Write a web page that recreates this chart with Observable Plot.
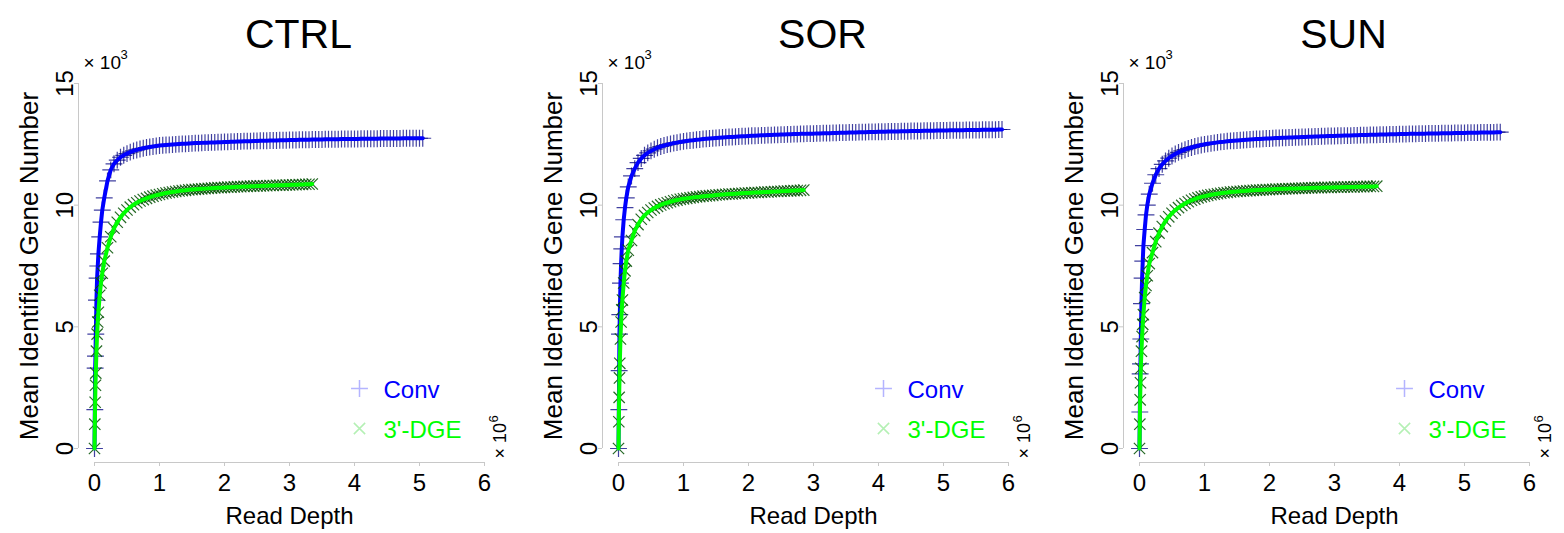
<!DOCTYPE html>
<html><head><meta charset="utf-8">
<script src="https://cdn.jsdelivr.net/npm/d3@7"></script>
<script src="https://cdn.jsdelivr.net/npm/@observablehq/plot@0.6"></script>
<style>
body{margin:0;background:#fff;}
#wrap{position:relative;width:1564px;height:533px;overflow:hidden;background:#fff;}
#wrap svg{position:absolute;top:0;}
</style></head><body><div id="wrap"></div>
<script>
// Read depth sample points (millions of reads)
const depth = [0,0.005,0.01,0.015,0.02,0.03,0.04,0.05,0.06,0.08,0.1,0.12,0.15,
0.2,0.25,0.3,0.35,0.4,0.45,0.5,0.55,0.6,0.65,0.7,0.75,0.8,0.85,0.9,0.95,
1,1.05,1.1,1.15,1.2,1.25,1.3,1.35,1.4,1.45,1.5,1.55,1.6,1.65,1.7,1.75,1.8,1.85,1.9,1.95,
2,2.05,2.1,2.15,2.2,2.25,2.3,2.35,2.4,2.45,2.5,2.55,2.6,2.65,2.7,2.75,2.8,2.85,2.9,2.95,
3,3.05,3.1,3.15,3.2,3.25,3.3,3.35,3.4,3.45,3.5,3.55,3.6,3.65,3.7,3.75,3.8,3.85,3.9,3.95,
4,4.05,4.1,4.15,4.2,4.25,4.3,4.35,4.4,4.45,4.5,4.55,4.6,4.65,4.7,4.75,4.8,4.85,4.9,4.95,
5,5.05,5.1,5.15,5.2,5.25,5.3,5.35,5.4,5.45,5.5,5.55,5.6,5.65,5.7,5.75,5.8,5.85,5.9];

// Mean identified gene number (thousands)
const ctrlConv = [0,1.6,3.3,3.8,4.7,6.1,7.0,7.5,8.0,8.7,9.3,9.8,10.3,
11.0,11.45,11.7,11.85,11.97,12.05,12.12,12.18,12.23,12.27,12.31,12.34,12.37,12.39,12.41,12.43,
12.45,12.46,12.47,12.48,12.49,12.50,12.51,12.52,12.52,12.53,12.54,12.55,12.55,12.56,12.57,12.57,12.58,12.58,12.59,12.59,12.60,
12.60,12.61,12.61,12.62,12.62,12.63,12.63,12.63,12.64,12.64,12.65,12.65,12.65,12.66,12.66,12.66,12.67,12.67,12.67,12.68,
12.68,12.68,12.69,12.69,12.69,12.69,12.70,12.70,12.70,12.70,12.71,12.71,12.71,12.71,12.71,12.72,12.72,12.72,12.72,12.72,
12.72,12.73,12.73,12.73,12.73,12.73,12.73,12.74,12.74,12.74,12.74,12.74,12.74,12.74,12.75,12.75,12.75,12.75,12.75,12.75,12.75];
const ctrlDge = [0,1.0,1.9,2.6,3.1,4.0,4.7,5.2,5.6,6.3,6.8,7.2,7.7,
8.25,8.7,9.05,9.3,9.5,9.67,9.8,9.92,10.02,10.1,10.17,10.23,10.28,10.33,10.37,10.41,
10.44,10.47,10.5,10.52,10.54,10.56,10.58,10.6,10.61,10.63,10.64,10.65,10.66,10.67,10.68,10.69,10.7,10.71,10.72,10.72,10.73,
10.74,10.74,10.75,10.76,10.76,10.77,10.77,10.78,10.78,10.79,10.79,10.8,10.8,10.81,10.81,10.82,10.82,10.82,10.83,10.83,
10.84,10.84,10.85,10.85,10.86,10.86,10.87];
const sorConv = [0,1.6,3.2,4.7,5.5,6.8,7.6,8.2,8.7,9.4,9.9,10.3,10.75,
11.2,11.5,11.75,11.92,12.05,12.15,12.23,12.3,12.36,12.41,12.45,12.49,12.52,12.55,12.57,12.6,
12.62,12.64,12.66,12.67,12.69,12.7,12.72,12.73,12.74,12.75,12.76,12.77,12.78,12.79,12.8,12.8,12.81,12.82,12.83,12.83,12.84,
12.85,12.85,12.86,12.87,12.87,12.88,12.88,12.89,12.89,12.9,12.9,12.91,12.91,12.92,12.92,12.93,12.93,12.94,12.94,12.94,
12.95,12.95,12.96,12.96,12.96,12.97,12.97,12.98,12.98,12.98,12.99,12.99,12.99,13.0,13.0,13.0,13.01,13.01,13.01,13.02,
13.02,13.02,13.03,13.03,13.03,13.03,13.04,13.04,13.04,13.05,13.05,13.05,13.05,13.06,13.06,13.06,13.06,13.07,13.07,13.07,
13.07,13.08,13.08,13.08,13.08,13.08,13.09,13.09,13.09,13.09,13.09,13.1,13.1,13.1,13.1,13.1,13.11,13.11];
const sorDge = [0,1.1,2.1,2.9,3.5,4.5,5.2,5.7,6.1,6.8,7.3,7.7,8.15,
8.55,8.95,9.2,9.42,9.58,9.7,9.8,9.88,9.95,10.01,10.06,10.1,10.14,10.18,10.21,10.24,
10.26,10.28,10.3,10.32,10.34,10.35,10.37,10.38,10.39,10.4,10.42,10.43,10.44,10.45,10.46,10.46,10.47,10.48,10.49,10.5,10.5,
10.51,10.52,10.52,10.53,10.54,10.54,10.55,10.56,10.56,10.57,10.58,10.58,10.59,10.6,10.6,10.61,10.62];
const sunConv = [0,1.5,3.07,3.48,4.5,5.95,7.0,7.7,8.34,9.0,9.6,10.0,10.45,
10.9,11.25,11.5,11.68,11.82,11.93,12.02,12.1,12.17,12.23,12.28,12.33,12.37,12.41,12.44,12.47,
12.5,12.52,12.54,12.56,12.58,12.6,12.61,12.63,12.64,12.65,12.66,12.67,12.68,12.69,12.7,12.71,12.72,12.72,12.73,12.74,12.74,
12.75,12.76,12.76,12.77,12.77,12.78,12.78,12.79,12.79,12.8,12.8,12.81,12.81,12.82,12.82,12.83,12.83,12.84,12.84,12.84,
12.85,12.85,12.86,12.86,12.86,12.87,12.87,12.88,12.88,12.88,12.89,12.89,12.89,12.9,12.9,12.9,12.91,12.91,12.91,12.92,
12.92,12.92,12.93,12.93,12.93,12.94,12.94,12.94,12.95,12.95,12.95,12.95,12.96,12.96,12.96,12.96,12.97,12.97,12.97,12.97,
12.98,12.98,12.98,12.98,12.99,12.99,12.99,12.99,12.99,13.0,13.0];
const sunDge = [0,1.0,2.0,2.7,3.3,4.0,4.6,5.1,5.5,6.2,6.7,7.1,7.6,
8.05,8.5,8.85,9.12,9.35,9.52,9.67,9.8,9.9,9.99,10.07,10.14,10.2,10.25,10.3,10.34,
10.37,10.4,10.43,10.45,10.47,10.49,10.51,10.52,10.54,10.55,10.56,10.57,10.58,10.59,10.6,10.61,10.62,10.62,10.63,10.64,10.64,
10.65,10.66,10.66,10.67,10.67,10.68,10.68,10.69,10.69,10.7,10.7,10.71,10.71,10.72,10.72,10.72,10.73,10.73,10.73,10.74,
10.74,10.74,10.75,10.75,10.75,10.75,10.76,10.76,10.76,10.77,10.77,10.77,10.78];

const panels = ["CTRL", "SOR", "SUN"];
const seriesNames = ["Conv", "3'-DGE"];
const xTicks = [0,1,2,3,4,5,6];
const yTicks = [0,5,10,15];
const panelData = [[ctrlConv, ctrlDge],[sorConv, sorDge],[sunConv, sunDge]];
const panelLeft = [0, 524, 1045];

const FONT = '"Liberation Sans", Arial, Helvetica, sans-serif';
const AXIS = "#c8c8c8";

function rows(ys) { return ys.map((y, i) => ({x: depth[i], y})); }

function panel(title, convY, dgeY) {
  const conv = rows(convY), dge = rows(dgeY);
  return Plot.plot({
    width: 522, height: 533,
    marginLeft: 94, marginRight: 38, marginTop: 83, marginBottom: 85,
    x: {domain: [0, 6]},
    y: {domain: [0, 15]},
    style: {fontFamily: FONT, background: "white", color: "black", overflow: "visible"},
    marks: [
      Plot.ruleX([0], {y1: 0, y2: 15, dx: -16, stroke: AXIS}),
      Plot.ruleY([0], {x1: 0, x2: 6, dy: 14, stroke: AXIS}),
      Plot.axisY({ticks: yTicks, tickFormat: d => String(d), tickSize: 4, tickPadding: 2, dx: -16, tickRotate: -90, fontSize: 24, stroke: AXIS, fill: "black", label: null}),
      Plot.axisX({ticks: xTicks, tickFormat: d => String(d), tickSize: 4, tickPadding: 7, dy: 14, fontSize: 24, stroke: AXIS, fill: "black", label: null}),
      Plot.dot(conv, {x: "x", y: "y", symbol: "plus", r: 5.5, fill: "none", stroke: "#000080", strokeOpacity: 0.75, strokeWidth: 1.2}),
      Plot.line(conv, {x: "x", y: "y", stroke: "#0000ff", strokeWidth: 4}),
      Plot.dot(dge, {x: "x", y: "y", symbol: "times", r: 5.2, fill: "none", stroke: "#005000", strokeOpacity: 0.85, strokeWidth: 1.2}),
      Plot.line(dge, {x: "x", y: "y", stroke: "#00ff00", strokeWidth: 4}),
      // title
      Plot.text([title], {text: d => d, frameAnchor: "top", dx: 9, dy: -36, fontSize: 41, lineAnchor: "bottom", fill: "black"}),
      // axis labels
      Plot.text(["Read Depth"], {text: d => d, frameAnchor: "bottom", dy: 75, fontSize: 24, lineAnchor: "bottom", fill: "black"}),
      Plot.text(["Mean Identified Gene Number"], {text: d => d, frameAnchor: "left", dx: -57, rotate: -90, fontSize: 26, textAnchor: "middle", lineAnchor: "bottom", fill: "black"}),
      // exponent labels
      Plot.text(["× 10"], {text: d => d, frameAnchor: "top-left", dx: -11, dy: -15, fontSize: 19, textAnchor: "start", lineAnchor: "bottom", fill: "black"}),
      Plot.text(["3"], {text: d => d, frameAnchor: "top-left", dx: 26, dy: -25, fontSize: 13, textAnchor: "start", lineAnchor: "bottom", fill: "black"}),
      Plot.text(["× 10"], {text: d => d, frameAnchor: "bottom-right", dx: 21, dy: 10, rotate: -90, fontSize: 18, textAnchor: "start", lineAnchor: "bottom", fill: "black"}),
      Plot.text(["6"], {text: d => d, frameAnchor: "bottom-right", dx: 13, dy: -26, rotate: -90, fontSize: 13, textAnchor: "start", lineAnchor: "bottom", fill: "black"}),
      // legend
      Plot.dot([seriesNames[0]], {frameAnchor: "bottom-right", dx: -125, dy: -60, symbol: "plus", r: 5.5, fill: "none", stroke: "#b4b4ff"}),
      Plot.dot([seriesNames[1]], {frameAnchor: "bottom-right", dx: -125, dy: -20, symbol: "times", r: 5.2, fill: "none", stroke: "#b4f0b4"}),
      Plot.text([seriesNames[0]], {text: d => d, frameAnchor: "bottom-right", dx: -101, dy: -51, fontSize: 24, textAnchor: "start", lineAnchor: "bottom", fill: "#0000ff"}),
      Plot.text([seriesNames[1]], {text: d => d, frameAnchor: "bottom-right", dx: -101, dy: -11, fontSize: 24, textAnchor: "start", lineAnchor: "bottom", fill: "#00ff00"})
    ]
  });
}

const wrap = document.getElementById("wrap");
panels.forEach((name, i) => {
  const svg = panel(name, panelData[i][0], panelData[i][1]);
  svg.style.left = panelLeft[i] + "px";
  wrap.appendChild(svg);
});
</script></body></html>
